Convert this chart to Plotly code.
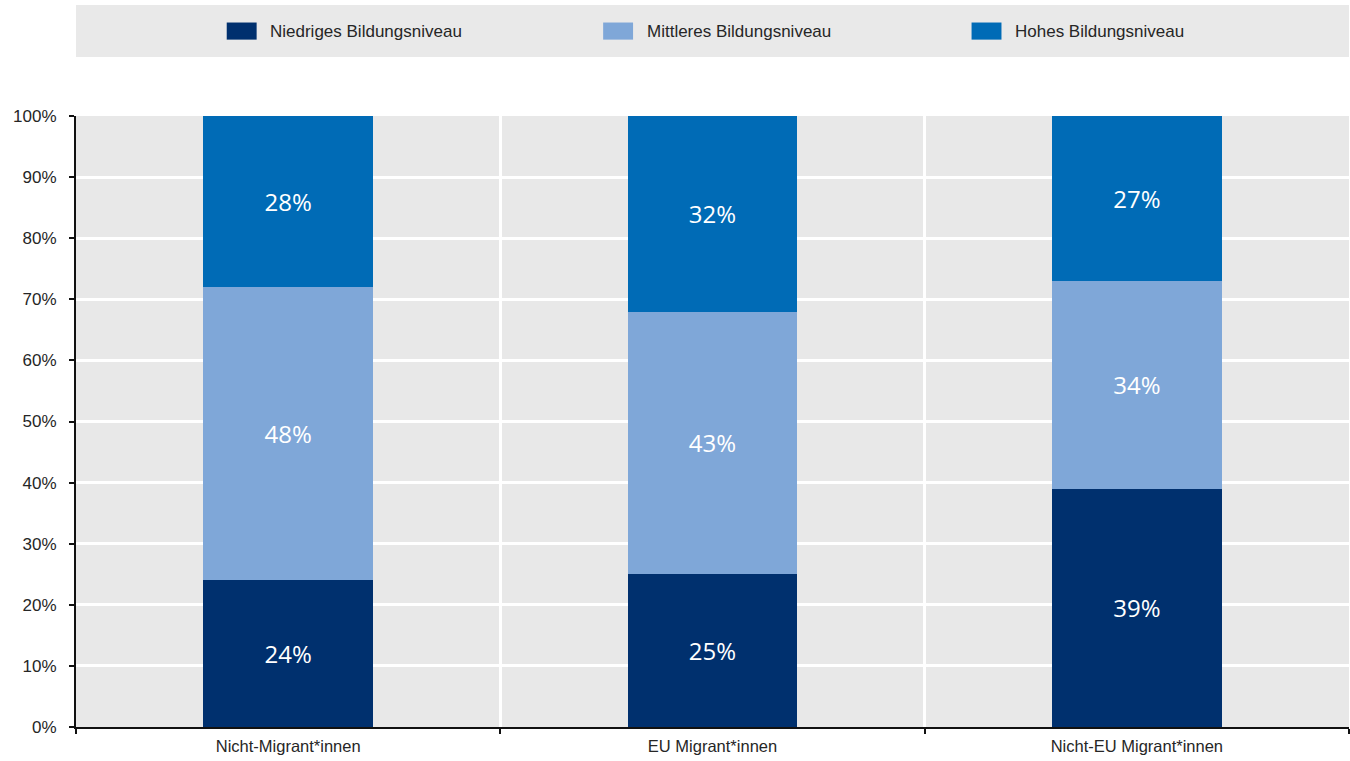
import plotly.graph_objects as go

categories = ["Nicht-Migrant*innen", "EU Migrant*innen", "Nicht-EU Migrant*innen"]
series_names = ["Niedriges Bildungsniveau", "Mittleres Bildungsniveau", "Hohes Bildungsniveau"]
niedrig = [24, 25, 39]
mittel = [48, 43, 34]
hoch = [28, 32, 27]
y_ticks = [0, 10, 20, 30, 40, 50, 60, 70, 80, 90, 100]
y_tick_labels = [f"{v}%" for v in y_ticks]

colors = ["#00306E", "#7FA7D8", "#006BB6"]
sans = "Liberation Sans, Arial, sans-serif"
label_font = "Open Sans, Noto Sans, sans-serif"
text_col = "#262626"

fig = go.Figure()
for name, vals, col in zip(series_names, [niedrig, mittel, hoch], colors):
    fig.add_trace(go.Bar(
        x=categories, y=vals, name=name,
        marker=dict(color=col, line=dict(width=0)),
        text=[f"{v}%" for v in vals],
        textposition="inside", insidetextanchor="middle",
        textfont=dict(family=label_font, size=24, color="white"),
        width=0.4, showlegend=False,
    ))

# legend band across the top
fig.add_shape(type="rect", xref="paper", yref="paper",
              x0=0.0, x1=1.0, y0=1.0966, y1=1.1817,
              fillcolor="#E9E9E9", line=dict(width=0), layer="below")
legend_x = [0.1184, 0.4141, 0.7035]
for name, col, lx in zip(series_names, colors, legend_x):
    fig.add_shape(type="rect", xref="paper", yref="paper",
                  x0=lx, x1=lx + 0.0235, y0=1.125, y1=1.153,
                  fillcolor=col, line=dict(width=0))
    fig.add_annotation(xref="paper", yref="paper", x=lx + 0.0325, y=1.139,
                       text=name, showarrow=False, xanchor="left", yanchor="middle",
                       font=dict(family=sans, size=17, color=text_col))

fig.update_layout(
    width=1350, height=761,
    margin=dict(l=76, r=1, t=116, b=34),
    paper_bgcolor="white", plot_bgcolor="#E8E8E8",
    barmode="stack", bargap=0.6,
    font=dict(family=sans, size=17, color=text_col),
)
fig.update_xaxes(
    type="category", tickson="boundaries",
    showgrid=True, gridcolor="white", gridwidth=3,
    showline=True, linecolor="#111111", linewidth=2,
    ticks="outside", ticklen=5, tickcolor="#111111", tickwidth=1.5,
    ticklabelstandoff=3,
    tickfont=dict(family=sans, size=16.5, color=text_col),
)
fig.update_yaxes(
    range=[0, 100], tickvals=y_ticks, ticktext=y_tick_labels,
    showgrid=True, gridcolor="white", gridwidth=2.5,
    showline=True, linecolor="#111111", linewidth=2,
    ticks="outside", ticklen=5, tickcolor="#111111", tickwidth=1.5,
    ticklabelstandoff=9,
    tickfont=dict(family=sans, size=17, color=text_col),
    zeroline=False,
)

fig.write_html("out.html")
